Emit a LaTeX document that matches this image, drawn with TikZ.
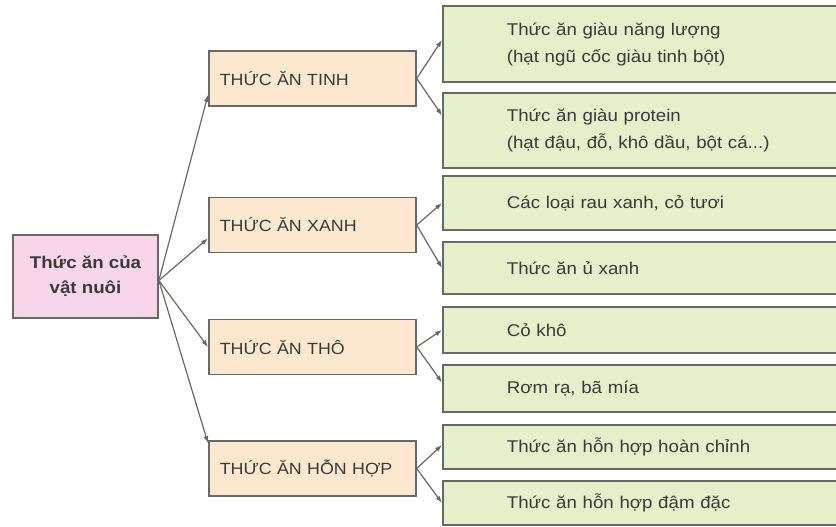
\documentclass[tikz,border=0pt]{standalone}
\usepackage{fontspec}
\setmainfont{Liberation Sans}[FakeStretch=1.1]
\usepackage{xcolor}
\usetikzlibrary{arrows.meta}

\definecolor{rootpink}{HTML}{F7D6EA}
\definecolor{midpeach}{HTML}{FCE7CF}
\definecolor{leafgreen}{HTML}{E5EFC9}
\definecolor{edgegray}{HTML}{686864}
\definecolor{textgray}{HTML}{3A3A3A}

\tikzset{
  rootbox/.style={draw=edgegray, line width=1.7pt, fill=rootpink, minimum width=145pt, minimum height=83pt,
    align=center, text=textgray, font=\fontsize{17}{25}\selectfont\bfseries},
  midbox/.style={draw=edgegray, line width=1.7pt, fill=midpeach, anchor=west, minimum height=55pt,
    text width=185pt, inner xsep=11pt, align=left, text=textgray, font=\fontsize{16.2}{20}\selectfont},
  leafbox/.style={draw=edgegray, line width=1.7pt, fill=leafgreen, anchor=west,
    text width=300pt, inner xsep=64pt, align=left, text=textgray, font=\fontsize{17}{27}\selectfont},
  link/.style={edgegray, line width=1.2pt, -{Latex[length=7pt,width=5pt]}}
}

\begin{document}
\begin{tikzpicture}[x=1pt, y=-1pt]
  \useasboundingbox (0,0) rectangle (836,527);
  \fill[white] (0,0) rectangle (836,527);
  \clip (0,0) rectangle (836,527);

  \node[rootbox] (root) at (85.5,276.5) {Thức ăn của\\vật nuôi};

  \node[midbox] (tinh) at (208,78.5) {THỨC ĂN TINH};
  \node[midbox] (xanh) at (208,225) {THỨC ĂN XANH};
  \node[midbox] (tho) at (208,347) {THỨC ĂN THÔ};
  \node[midbox] (hh) at (208,468.5) {THỨC ĂN HỖN HỢP};

  \node[leafbox, minimum height=76pt] (nl) at (442,44) {Thức ăn giàu năng lượng\\(hạt ngũ cốc giàu tinh bột)};
  \node[leafbox, minimum height=75pt] (pr) at (442,130.5) {Thức ăn giàu protein\\(hạt đậu, đỗ, khô dầu, bột cá...)};
  \node[leafbox, minimum height=54pt] (rau) at (442,203) {Các loại rau xanh, cỏ tươi};
  \node[leafbox, minimum height=52pt] (u) at (442,268) {Thức ăn ủ xanh};
  \node[leafbox, minimum height=46pt] (ck) at (442,330) {Cỏ khô};
  \node[leafbox, minimum height=47pt] (rom) at (442,388.5) {Rơm rạ, bã mía};
  \node[leafbox, minimum height=44pt] (hc) at (442,447) {Thức ăn hỗn hợp hoàn chỉnh};
  \node[leafbox, minimum height=44pt] (dd) at (442,503) {Thức ăn hỗn hợp đậm đặc};

  \draw[link] ([yshift=-4pt]root.east) -- ([yshift=12pt]tinh.south west);
  \draw[link] ([yshift=-4pt]root.east) -- ([yshift=15pt]xanh.south west);
  \draw[link] ([yshift=-4pt]root.east) -- (tho.west);
  \draw[link] ([yshift=-4pt]root.east) -- ([yshift=-3pt]hh.north west);

  \draw[link] (tinh.east) -- ([yshift=4pt]nl.west);
  \draw[link] (tinh.east) -- ([yshift=15pt]pr.west);
  \draw[link] (xanh.east) -- (rau.west);
  \draw[link] (xanh.east) -- (u.west);
  \draw[link] (tho.east) -- (ck.west);
  \draw[link] (tho.east) -- ([yshift=6pt]rom.west);
  \draw[link] (hh.east) -- ([yshift=2pt]hc.west);
  \draw[link] (hh.east) -- (dd.west);
\end{tikzpicture}
\end{document}
